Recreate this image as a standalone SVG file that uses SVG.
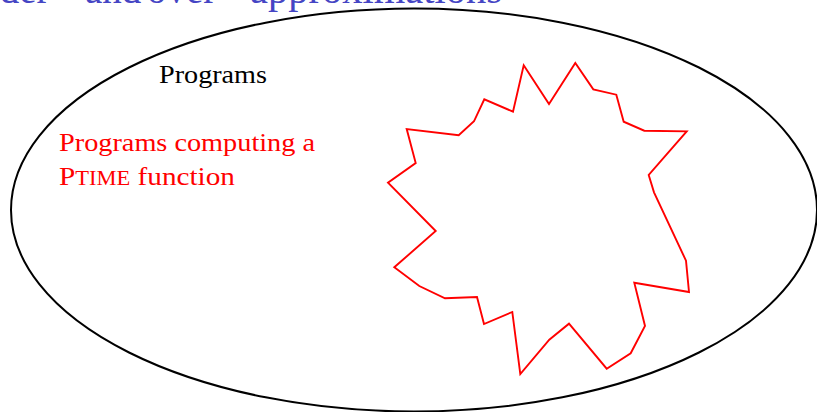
<svg xmlns="http://www.w3.org/2000/svg" width="817" height="412" viewBox="0 0 817 412">
<style>
.title{font-family:"Liberation Serif","DejaVu Serif",serif;font-size:39px;fill:#4545c4}
.lbl{font-family:"Liberation Serif","DejaVu Serif",serif;font-size:26px;fill:#000}
.red{font-family:"Liberation Serif","DejaVu Serif",serif;font-size:26px;fill:#ff0000}
.sc{font-size:20px}
</style>
<rect width="817" height="412" fill="#fff"/>
<text class="title" y="3"><tspan x="-48">Under”</tspan><tspan x="85">and</tspan><tspan x="147">over”</tspan><tspan x="250" textLength="252" lengthAdjust="spacingAndGlyphs">approximations</tspan></text>
<g id="programs">
<ellipse cx="414" cy="210" rx="403" ry="201.5" fill="none" stroke="#000" stroke-width="2"/>
<text class="lbl" x="159" y="83" textLength="108" lengthAdjust="spacingAndGlyphs">Programs</text>
</g>
<g id="ptime">
<polygon fill="none" stroke="#ff0000" stroke-width="1.9" stroke-linejoin="miter" points="523.7,65.3 549,104 575.3,63 593.3,89.3 616.3,94.7 623.7,121.7 644.3,130.7 686.7,131.3 648.7,175 654,192.3 686,260.7 689,292 634.3,282.7 645,326 630.7,353.3 606.7,368.7 569,323.7 549.3,339.7 520.3,374 512.3,312 484,324 477,297 445,298.3 419.3,286 394.3,267.3 435.7,231 388,182.7 415.7,163 406.7,129 458.7,135.3 474,121.3 484.3,99.3 513,111.7"/>
<text class="red" x="59" y="151" textLength="256" lengthAdjust="spacingAndGlyphs">Programs computing a</text>
<text class="red" x="59" y="185" textLength="176" lengthAdjust="spacingAndGlyphs">P<tspan class="sc">TIME</tspan> function</text>
</g>
</svg>
